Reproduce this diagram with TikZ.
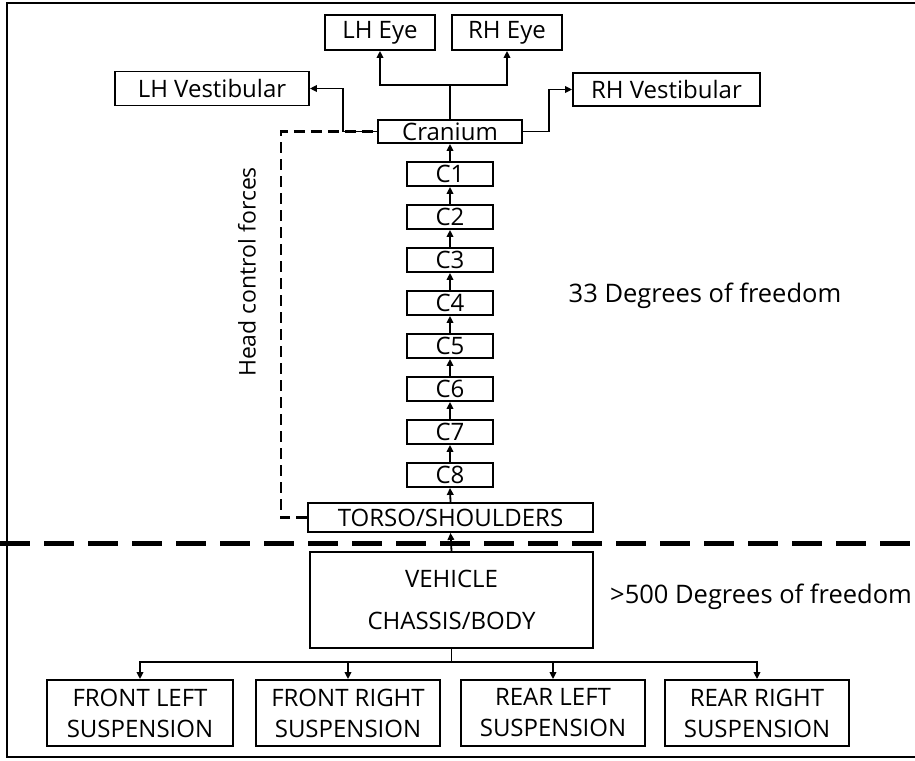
\documentclass[tikz,border=0pt]{standalone}
\usepackage{fontspec}
\setmainfont{Open Sans}
\usetikzlibrary{arrows.meta}
\begin{document}
\begin{tikzpicture}[x=1pt,y=-1pt,
 box/.style={draw, line width=1.8pt, inner sep=0pt, align=center, font=\fontsize{24}{31}\selectfont},
 lbl/.style={inner sep=0pt, font=\fontsize{25.5}{28}\selectfont},
 arr/.style={line width=1.8pt, -{Triangle[length=7pt,width=6.5pt]}},
 ln/.style={line width=1.8pt},
 hcdash/.style={line width=2.5pt, dash pattern=on 11pt off 6pt},
 bigdash/.style={line width=5pt, dash pattern=on 30pt off 14pt}]
\useasboundingbox (0,0) rectangle (915,760);
\draw[line width=2pt] (915,3) -- (7,3) -- (7,757) -- (915,757);
% head
\node[box, minimum width=110pt, minimum height=35pt] (lheye) at (380,32.5) {LH Eye};
\node[box, minimum width=110pt, minimum height=35pt] (rheye) at (507,32.5) {RH Eye};
\node[box, minimum width=194pt, minimum height=34pt] (lhv) at (212,88.5) {LH Vestibular};
\node[box, minimum width=187pt, minimum height=33pt] (rhv) at (666.5,89.5) {RH Vestibular};
\node[box, minimum width=144pt, minimum height=23pt] (cranium) at (450,131.5) {Cranium};
% cervical
\foreach \i in {1,...,8} {
  \node[box, minimum width=86pt, minimum height=24pt] (c\i) at (450,{174+43*(\i-1)}) {C\i};
}
\node[box, minimum width=285pt, minimum height=29pt] (torso) at (450.5,517.5) {TORSO/SHOULDERS};
\node[box, minimum width=283pt, minimum height=96pt, font=\fontsize{24}{42}\selectfont] (vehicle) at (451.5,600) {VEHICLE\\CHASSIS/BODY};
% suspensions
\node[box, minimum width=186pt, minimum height=66pt] (fl) at (140,713) {FRONT LEFT\\SUSPENSION};
\node[box, minimum width=184pt, minimum height=66pt] (fr) at (348,713) {FRONT RIGHT\\SUSPENSION};
\node[box, minimum width=184pt, minimum height=66pt] (rl) at (553,713) {REAR LEFT\\SUSPENSION};
\node[box, minimum width=184pt, minimum height=66pt] (rr) at (757,713) {REAR RIGHT\\SUSPENSION};
% labels
\node[lbl] (dof33) at (705,296) {33 Degrees of freedom};
\node[lbl] (dof500) at (761,597) {>500 Degrees of freedom};
\node[lbl, font=\fontsize{23}{26}\selectfont, rotate=90] (hcf) at (247,272) {Head control forces};
% connectors
\coordinate (ej) at (450,85);
\draw[ln] (cranium.north) -- (ej);
\draw[arr] (ej) -| (lheye.south);
\draw[arr] (ej) -| (rheye.south);
\draw[arr] (cranium.west) -- ++(-34,0) |- (lhv.east);
\draw[arr] (cranium.east) -- ++(26,0) |- (rhv.west);
\draw[arr] (c1.north) -- (cranium.south);
\foreach \i [count=\j from 2] in {1,...,7} {
  \draw[arr] (c\j.north) -- (c\i.south);
}
\draw[arr] (torso.north) -- (c8.south);
\draw[arr] (vehicle.north) -- (torso.south);
\coordinate (hc) at (281,131.5);
\draw[hcdash] (torso.west) -| (hc) -- (cranium.west);
\coordinate (dl) at (0,543);
\coordinate (dr) at (915,543);
\draw[bigdash] (dl) -- (dr);
\coordinate (bj) at (451.5,662);
\draw[ln] (vehicle.south) -- (bj);
\draw[arr] (bj) -| (fl.north);
\draw[arr] (bj) -| (fr.north);
\draw[arr] (bj) -| (rl.north);
\draw[arr] (bj) -| (rr.north);
\end{tikzpicture}
\end{document}
